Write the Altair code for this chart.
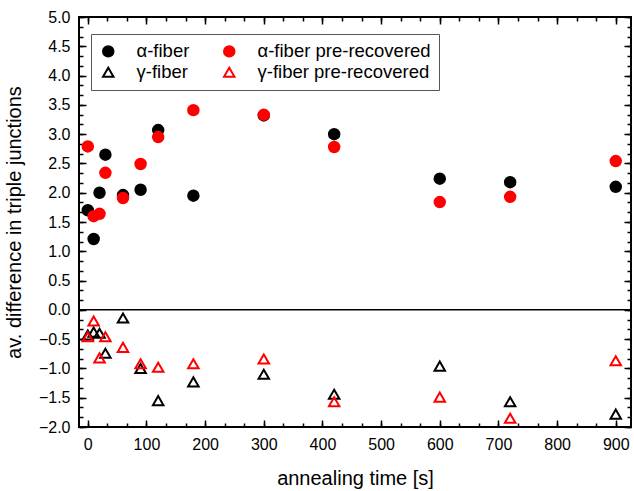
import altair as alt
import pandas as pd

# annealing times [s]
times = [0, 10, 20, 30, 60, 90, 120, 180, 300, 420, 600, 720, 900]

alpha_fiber = [1.70, 1.21, 2.00, 2.65, 1.96, 2.05, 3.07, 1.95, 3.32, 3.00, 2.24, 2.18, 2.10]
alpha_pre = [2.79, 1.60, 1.64, 2.34, 1.91, 2.49, 2.95, 3.41, 3.33, 2.78, 1.84, 1.93, 2.54]
gamma_fiber = [-0.43, -0.38, -0.40, -0.74, -0.14, -1.00, -1.55, -1.23, -1.10, -1.44, -0.96, -1.57, -1.78]
gamma_pre = [-0.46, -0.19, -0.82, -0.46, -0.64, -0.92, -0.98, -0.92, -0.84, -1.57, -1.49, -1.85, -0.87]

series_names = ["α-fiber", "α-fiber pre-recovered", "γ-fiber", "γ-fiber pre-recovered"]
series_colors = ["#000000", "#ff0000", "#000000", "#ff0000"]
series_fills = ["#000000", "#ff0000", "transparent", "transparent"]
series_shapes = ["circle", "circle", "triangle-up", "triangle-up"]
series_sizes = [110, 110, 170, 170]

x_major = [0, 100, 200, 300, 400, 500, 600, 700, 800, 900]
x_minor = [round(k * 100 / 3, 4) for k in range(28)]
y_major = [-2.0, -1.5, -1.0, -0.5, 0.0, 0.5, 1.0, 1.5, 2.0, 2.5, 3.0, 3.5, 4.0, 4.5, 5.0]
y_minor = [round(-2 + k / 6, 5) for k in range(43)]
zero_line = [0.0]

X_DOMAIN = [-15, 926]
Y_DOMAIN = [-2, 5]
FONT = "Liberation Sans"

rows = []
for name, vals in zip(series_names, [alpha_fiber, alpha_pre, gamma_fiber, gamma_pre]):
    for t, v in zip(times, vals):
        rows.append({"t": t, "v": v, "series": name})
df = pd.DataFrame(rows)

xs = alt.Scale(domain=X_DOMAIN, nice=False, zero=False)
ys = alt.Scale(domain=Y_DOMAIN, nice=False, zero=False)

MAJ = 7
MIN = 4


def make_axis(orient, size, values, labels=False, title=None, fmt="d", title_pad=14):
    kw = dict(orient=orient, values=values, tickSize=size, offset=-size, domain=False,
              grid=False, labels=labels, ticks=True, tickColor="black", tickWidth=1.5)
    if labels:
        kw.update(format=fmt, labelFont=FONT, labelFontSize=16, labelColor="black",
                  labelPadding=9, labelFlush=False, labelOverlap=False)
    if title:
        kw.update(title=title, titleFont=FONT, titleFontSize=20, titleFontWeight="normal",
                  titleColor="black", titlePadding=title_pad)
    else:
        kw.update(title=None)
    return alt.Axis(**kw)


points = alt.Chart(df).mark_point(filled=False, strokeWidth=2, opacity=1).encode(
    x=alt.X("t:Q", scale=xs,
            axis=make_axis("bottom", MAJ, x_major, True, "annealing time [s]", "d", 16)),
    y=alt.Y("v:Q", scale=ys,
            axis=make_axis("left", MAJ, y_major, True, "av. difference in triple junctions", ".1f", 14)),
    color=alt.Color("series:N", scale=alt.Scale(domain=series_names, range=series_colors), title=None),
    fill=alt.Fill("series:N", scale=alt.Scale(domain=series_names, range=series_fills), title=None),
    shape=alt.Shape("series:N", scale=alt.Scale(domain=series_names, range=series_shapes), title=None),
    size=alt.Size("series:N", scale=alt.Scale(domain=series_names, range=series_sizes), title=None),
)

zero = alt.Chart(pd.DataFrame({"z": zero_line})).mark_rule(color="black", strokeWidth=1.5).encode(
    y=alt.Y("z:Q", scale=ys, axis=None)
)


def axis_layer(xa, ya):
    return alt.Chart(df).mark_point(opacity=0).encode(
        x=alt.X("t:Q", scale=xs, axis=xa),
        y=alt.Y("v:Q", scale=ys, axis=ya),
    )


l_minor = axis_layer(make_axis("bottom", MIN, x_minor), make_axis("left", MIN, y_minor))
l_top = axis_layer(make_axis("top", MAJ, x_major), make_axis("right", MAJ, y_major))
l_top_minor = axis_layer(make_axis("top", MIN, x_minor), make_axis("right", MIN, y_minor))

chart = alt.layer(l_minor, l_top, l_top_minor, zero, points).resolve_axis(
    x="independent", y="independent"
).resolve_scale(x="shared", y="shared").properties(
    width=552,
    height=410,
    autosize=alt.AutoSizeParams(type="none"),
    padding={"left": 79, "top": 17, "right": 3, "bottom": 64},
    background="white",
).configure_view(
    stroke="black", strokeWidth=2
).configure_legend(
    orient="none",
    legendX=12,
    legendY=17,
    direction="horizontal",
    columns=2,
    columnPadding=30,
    rowPadding=2,
    padding=8,
    strokeColor="#555555",
    strokeWidth=1,
    fillColor="white",
    labelFont=FONT,
    labelFontSize=18.5,
    labelColor="black",
    labelLimit=0,
    labelOffset=19,
    symbolStrokeWidth=2,
    symbolOpacity=1,
)

chart.save("out.html", embed_options={"renderer": "svg", "actions": False})
